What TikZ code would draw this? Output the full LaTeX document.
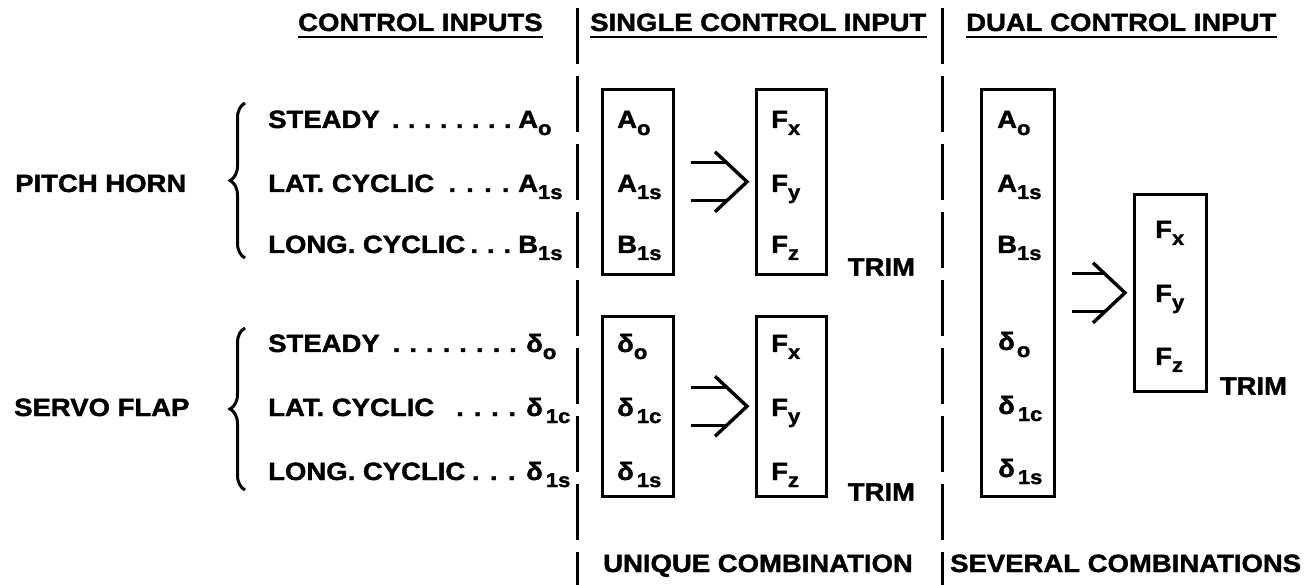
\documentclass[tikz,border=0pt]{standalone}
\usepackage{fontspec}
\setmainfont{Liberation Sans}[FakeStretch=1.1, BoldFeatures={FakeBold=1.5}]
\usetikzlibrary{calc,decorations.pathreplacing}
% subscript used for the control symbols
\newcommand\sbs[1]{\raisebox{-0.28em}{\fontsize{20}{20}\selectfont #1}}
% leader dots between a control name and its symbol
\newcommand\leaderdots{\xleaders\hbox to 15pt{\hss.\hss}\hfill}
% open double-line arrow from one box to the next
\newcommand\openarrow[2]{%
  \draw[openarr] ($(#1.east)+(16,-19)$) -- ($(#2.west)+(-28,-19)$);
  \draw[openarr] ($(#1.east)+(16,19)$) -- ($(#2.west)+(-28,19)$);
  \draw[openarr] ($(#2.west)+(-40,-30)$) -- ($(#2.west)+(-8,0)$) -- ($(#2.west)+(-40,30)$);}
\begin{document}
\begin{tikzpicture}[x=1pt,y=-1pt,
  txt/.style={inner sep=0pt, font=\fontsize{25}{30}\selectfont\bfseries},
  box/.style={draw, line width=2.6pt, inner sep=0pt, anchor=north west},
  divider/.style={line width=3pt, dash pattern=on 56pt off 12pt},
  uline/.style={line width=2.6pt},
  openarr/.style={line width=3.4pt, line join=miter},
  brc/.style={line width=3pt, decorate, decoration={brace, amplitude=15pt}}]
\useasboundingbox[fill=white] (0,0) rectangle (1315,585);

% column headings
\node[txt, anchor=base west] (hc) at (298,31) {CONTROL INPUTS};
\node[txt, anchor=base west] (hs) at (590,31) {SINGLE CONTROL INPUT};
\node[txt, anchor=base west] (hd) at (966,31) {DUAL CONTROL INPUT};
\foreach \h in {hc,hs,hd}
  \draw[uline] ($(\h.base west)+(0,6)$) -- ($(\h.base east)+(0,6)$);

% column separators
\coordinate (d1t) at (577,8);  \coordinate (d1b) at (577,585);
\coordinate (d2t) at (942,8);  \coordinate (d2b) at (942,585);
\draw[divider] (d1t) -- (d1b);
\draw[divider] (d2t) -- (d2b);

% control inputs
\node[txt, anchor=base west] (ph) at (15,192) {PITCH HORN};
\coordinate (pb1) at (245,258); \coordinate (pb2) at (245,103);
\draw[brc] (pb1) -- (pb2);
\node[txt, anchor=base west] (ph1) at (268,128) {\hbox to 250pt{STEADY\ \leaderdots\kern2pt}A\sbs{o}};
\node[txt, anchor=base west] (ph2) at (268,192) {\hbox to 250pt{LAT. CYCLIC\ \leaderdots\kern2pt}A\sbs{1s}};
\node[txt, anchor=base west] (ph3) at (268,253) {\hbox to 250pt{LONG. CYCLIC\leaderdots\kern2pt}B\sbs{1s}};

\node[txt, anchor=base west] (sf) at (14,416) {SERVO FLAP};
\coordinate (sb1) at (245,490); \coordinate (sb2) at (245,328);
\draw[brc] (sb1) -- (sb2);
\node[txt, anchor=base west] (sf1) at (268,352) {\hbox to 258pt{STEADY\ \leaderdots\kern4pt}δ\sbs{o}};
\node[txt, anchor=base west] (sf2) at (268,416) {\hbox to 258pt{LAT. CYCLIC\hskip 16pt\leaderdots\kern4pt}δ\kern3pt\sbs{1c}};
\node[txt, anchor=base west] (sf3) at (268,480) {\hbox to 258pt{LONG. CYCLIC\leaderdots\kern4pt}δ\kern3pt\sbs{1s}};

% single control input
\node[box, minimum width=71pt, minimum height=185pt] (p1) at (601,88) {};
\node[box, minimum width=70pt, minimum height=185pt] (f1) at (755,88) {};
\node[box, minimum width=71pt, minimum height=180pt] (p2) at (601,315) {};
\node[box, minimum width=70pt, minimum height=180pt] (f2) at (755,315) {};

\node[txt, anchor=base west] (p1a) at (617,128) {A\sbs{o}};
\node[txt, anchor=base west] (p1b) at (617,192) {A\sbs{1s}};
\node[txt, anchor=base west] (p1c) at (617,253) {B\sbs{1s}};
\node[txt, anchor=base west] (f1a) at (771,128) {F\sbs{x}};
\node[txt, anchor=base west] (f1b) at (771,192) {F\sbs{y}};
\node[txt, anchor=base west] (f1c) at (771,253) {F\sbs{z}};
\node[txt, anchor=base west] (t1) at ($(f1.south east)+(20,0)$) {TRIM};

\node[txt, anchor=base west] (p2a) at (617,352) {δ\sbs{o}};
\node[txt, anchor=base west] (p2b) at (617,416) {δ\kern3pt\sbs{1c}};
\node[txt, anchor=base west] (p2c) at (617,480) {δ\kern3pt\sbs{1s}};
\node[txt, anchor=base west] (f2a) at (771,352) {F\sbs{x}};
\node[txt, anchor=base west] (f2b) at (771,416) {F\sbs{y}};
\node[txt, anchor=base west] (f2c) at (771,480) {F\sbs{z}};
\node[txt, anchor=base west] (t2) at ($(f2.south east)+(20,3)$) {TRIM};

\openarrow{p1}{f1}
\openarrow{p2}{f2}

% dual control input
\node[box, minimum width=73pt, minimum height=407pt] (pd) at (980,88) {};
\node[box, minimum width=72pt, minimum height=197pt] (fd) at (1133,193) {};
\node[txt, anchor=base west] (pda) at (997,128) {A\sbs{o}};
\node[txt, anchor=base west] (pdb) at (997,192) {A\sbs{1s}};
\node[txt, anchor=base west] (pdc) at (997,253) {B\sbs{1s}};
\node[txt, anchor=base west] (pdd) at (998,350) {δ\kern2pt\sbs{o}};
\node[txt, anchor=base west] (pde) at (998,414) {δ\kern3pt\sbs{1c}};
\node[txt, anchor=base west] (pdf) at (998,477) {δ\kern3pt\sbs{1s}};
\node[txt, anchor=base west] (fda) at (1155,238) {F\sbs{x}};
\node[txt, anchor=base west] (fdb) at (1155,302) {F\sbs{y}};
\node[txt, anchor=base west] (fdc) at (1155,365) {F\sbs{z}};
\node[txt, anchor=base west] (td) at ($(fd.south east)+(12,2)$) {TRIM};
\openarrow{pd}{fd}

% footers
\node[txt, anchor=base west] (bu) at (603,572) {UNIQUE COMBINATION};
\node[txt, anchor=base west] (bs) at (950,572) {SEVERAL COMBINATIONS};
\end{tikzpicture}
\end{document}
